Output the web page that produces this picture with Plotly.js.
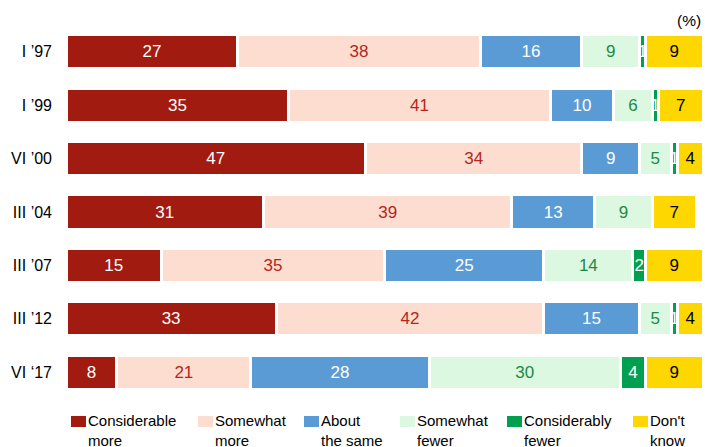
<!DOCTYPE html>
<html>
<head>
<meta charset="utf-8">
<script src="https://cdn.plot.ly/plotly-3.0.1.min.js"></script>
<style>html,body{margin:0;padding:0;background:#fff;}#chart{width:705px;height:447px;}</style>
</head>
<body>
<div id="chart"></div>
<script>
var categories = ["I \u201997", "I \u201999", "VI \u201900", "III \u201904", "III \u201907", "III \u201912", "VI \u201817"];
var seriesNames = ["Considerable<br>more", "Somewhat<br>more", "About<br>the same", "Somewhat<br>fewer", "Considerably<br>fewer", "Don't<br>know"];
var considerablyMore = [27, 35, 47, 31, 15, 33, 8];
var somewhatMore     = [38, 41, 34, 39, 35, 42, 21];
var aboutSame        = [16, 10, 9, 13, 25, 15, 28];
var somewhatFewer    = [9, 6, 5, 9, 14, 5, 30];
var considerablyFewer= [1, 1, 1, 0, 2, 1, 4];
var dontKnow         = [9, 7, 4, 7, 9, 4, 9];

var seriesValues = [considerablyMore, somewhatMore, aboutSame, somewhatFewer, considerablyFewer, dontKnow];
var fillColors = ["#A21B11", "#FDDDD0", "#5B9BD5", "#DDF8E1", "#00A050", "#FFD700"];
var textColors = ["#FFFFFF", "#B3261B", "#FFFFFF", "#1A8A48", "#FFFFFF", "#000000"];

var traces = seriesValues.map(function(vals, i){
  return {
    type: "bar",
    orientation: "h",
    name: seriesNames[i],
    y: categories,
    x: vals,
    text: vals.map(function(v){ return v === 0 ? "" : String(v); }),
    textposition: "inside",
    insidetextanchor: "middle",
    textangle: 0,
    constraintext: "none",
    cliponaxis: false,
    textfont: {family: "Liberation Sans, Arial, sans-serif", size: 17, color: textColors[i]},
    marker: {color: fillColors[i], line: {color: "#FFFFFF", width: 3}},
    hoverinfo: "none",
    showlegend: false
  };
});

var shapes = [];
var annotations = [];
var legendX = [71, 198, 304, 400, 507, 633];
var W = 705, PL = 66, PW = 705 - 66 - 2, PT = 25, PH = 374;
function px(x){ return (x - PL) / PW; }
function py(y){ return (PT + PH - y) / PH; }
seriesNames.forEach(function(n, i){
  var x0 = legendX[i];
  shapes.push({
    type: "rect", xref: "paper", yref: "paper",
    x0: px(x0), x1: px(x0 + 15),
    y0: py(427), y1: py(416),
    fillcolor: fillColors[i], line: {width: 0}
  });
  annotations.push({
    xref: "paper", yref: "paper",
    x: px(x0 + 15), y: py(410),
    xanchor: "left", yanchor: "top", align: "left",
    text: n, showarrow: false,
    font: {family: "Liberation Sans, Arial, sans-serif", size: 15, color: "#000000"}
  });
});
annotations.push({
  xref: "paper", yref: "paper", x: px(703), y: py(21), xanchor: "right", yanchor: "middle",
  text: "(%)", showarrow: false,
  font: {family: "Liberation Sans, Arial, sans-serif", size: 15.5, color: "#000000"}
});

var layout = {
  width: 705, height: 447,
  margin: {l: PL, r: 2, t: PT, b: 447 - PT - PH, pad: 0},
  barmode: "stack",
  bargap: 0.36,
  paper_bgcolor: "#FFFFFF",
  plot_bgcolor: "#FFFFFF",
  showlegend: false,
  uniformtext: {mode: "show", minsize: 17},
  xaxis: {range: [0, 100], showgrid: false, zeroline: false, showticklabels: false, ticks: "", showline: false, fixedrange: true},
  yaxis: {autorange: "reversed", showgrid: false, zeroline: false, ticks: "", showline: false, ticklabelstandoff: 13,
          tickfont: {family: "Liberation Sans, Arial, sans-serif", size: 16, color: "#000000"}},
  shapes: shapes,
  annotations: annotations,
  font: {family: "Liberation Sans, Arial, sans-serif"}
};

Plotly.newPlot("chart", traces, layout, {displayModeBar: false, staticPlot: true});
</script>
</body>
</html>
